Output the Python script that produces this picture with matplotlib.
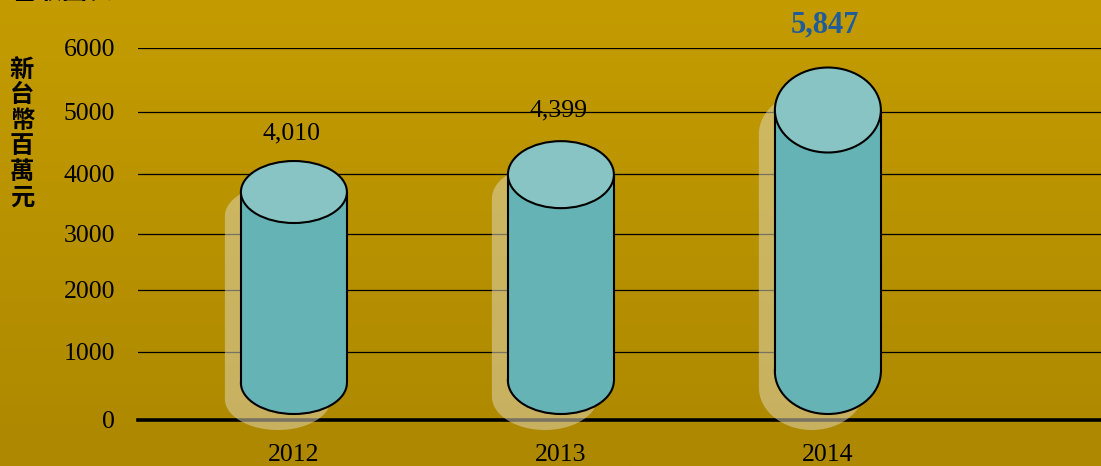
import numpy as np
import matplotlib.pyplot as plt
from matplotlib.patches import Ellipse, Rectangle, Polygon
from matplotlib.colors import LinearSegmentedColormap

# ── data ──
YEARS = ["2012", "2013", "2014"]
REVENUE = [4010, 4399, 5847]          # 新台幣百萬元
VALUE_LABELS = ["4,010", "4,399", "5,847"]
Y_TICKS = [0, 1000, 2000, 3000, 4000, 5000, 6000]

# ── style ──
W, H = 1101, 466
BG_TOP, BG_BOT = "#C49C00", "#AD8800"
BODY, CAP = "#65B3B5", "#88C4C4"
SHADOW = "#DCD3B0"
BLUE = "#1F5C99"
SERIF = "Liberation Serif"
CJK = ["Noto Sans CJK TC", "DejaVu Sans"]

# back wall of the 3D chart: gridline heights are not evenly spaced
WALL_PX = np.array([0, 68, 130, 186, 246, 308, 372]) / 372.0
PX = 6000 / 372.0                    # data units per pixel on the bar layer
DEPTH_OFFSET, DEPTH_SCALE = 790, 0.72
BASE = 6 * PX                        # bottom of cylinders sits just above 0
HALF_W = 0.1985                      # cylinder half width (x units)
CAP_HH = [31 * PX, 33.5 * PX, 42.5 * PX]
LABEL_LIFT, LABEL_SLOPE = 765, 0.96
LABEL_SIZE = [18.5, 18.5, 22]
LABEL_COLOR = ["black", "black", BLUE]
LABEL_WEIGHT = ["normal", "normal", "bold"]


def fwd(v):
    return np.interp(v, Y_TICKS, WALL_PX) * 6000


def inv(t):
    return np.interp(t, WALL_PX * 6000, Y_TICKS)


def silhouette(x, y0, y1, hw, hh):
    t = np.linspace(0, np.pi, 40)
    top = np.column_stack([x + hw * np.cos(t), y1 + hh * np.sin(t)])
    t = np.linspace(np.pi, 2 * np.pi, 40)
    bot = np.column_stack([x + hw * np.cos(t), y0 + hh * np.sin(t)])
    return np.vstack([top, bot])


def draw_cylinder(ax, x, y0, y1, hw, hh):
    # soft shadow behind, shifted left/down (runs over the zero line)
    sh = silhouette(x - 0.06, y0 - 16 * PX, y1 - 24 * PX, hw, hh)
    ax.add_patch(Polygon(sh, closed=True, fc=SHADOW, ec="none", alpha=0.55,
                         zorder=2, clip_on=False))
    ax.add_patch(Ellipse((x, y0), 2 * hw, 2 * hh, fc=BODY, ec="black", lw=1.5, zorder=3))
    ax.add_patch(Rectangle((x - hw, y0), 2 * hw, y1 - y0, fc=BODY, ec="none", zorder=4))
    ax.vlines([x - hw, x + hw], y0, y1, colors="black", lw=1.5, zorder=5)
    ax.add_patch(Ellipse((x, y1), 2 * hw, 2 * hh, fc=CAP, ec="black", lw=1.5, zorder=6))


fig = plt.figure(figsize=(W / 100, H / 100), dpi=100)

# gradient background
bg = fig.add_axes([0, 0, 1, 1])
cmap = LinearSegmentedColormap.from_list("gold", [BG_BOT, BG_TOP])
bg.imshow(np.linspace(0, 1, 256).reshape(-1, 1), aspect="auto", cmap=cmap,
          origin="lower", extent=[0, 1, 0, 1])
bg.axis("off")

ax = fig.add_axes([138 / W, 46 / H, 963 / W, 372 / H])
ax.set_facecolor("none")
for s in ax.spines.values():
    s.set_visible(False)
ax.set_xlim(-0.584, 3.023)
ax.set_yscale("function", functions=(fwd, inv))
ax.set_ylim(0, 6000)
ax.set_yticks(Y_TICKS)
ax.set_yticklabels([str(v) for v in Y_TICKS])
ax.set_xticks(range(len(YEARS)))
ax.set_xticklabels(YEARS)
ax.yaxis.grid(True, color="black", lw=0.9)
ax.axhline(0, color="black", lw=2.6, zorder=1.5, clip_on=False)
ax.tick_params(axis="y", length=0, pad=16.5, labelsize=18.5)
ax.tick_params(axis="x", length=0, pad=17.5, labelsize=18.5)
for lab in ax.get_xticklabels() + ax.get_yticklabels():
    lab.set_family(SERIF)

# bar layer with linear scale
cx = ax.twinx()
cx.set_ylim(0, 6000)
cx.axis("off")
for i, v in enumerate(REVENUE):
    hh = CAP_HH[i]
    y0 = BASE + hh
    y1 = DEPTH_OFFSET + v * DEPTH_SCALE
    draw_cylinder(cx, i, y0, y1, HALF_W, hh)
    cx.text(i - 0.01, LABEL_LIFT + v * LABEL_SLOPE, VALUE_LABELS[i], ha="center",
            va="center", fontsize=LABEL_SIZE[i], color=LABEL_COLOR[i],
            fontweight=LABEL_WEIGHT[i], family=SERIF, zorder=7, clip_on=False)

fig.text(22 / W, 1 - 133.5 / H, "\n".join("新台幣百萬元"), ha="center", va="center",
         fontsize=17.5, fontweight="bold", family=CJK, linespacing=1.08)
fig.text(112 / W, 1 - 4 / H, "營收圖表", ha="right", va="bottom",
         fontsize=18, fontweight="bold", family=CJK)

fig.savefig("out.png", dpi=100)
